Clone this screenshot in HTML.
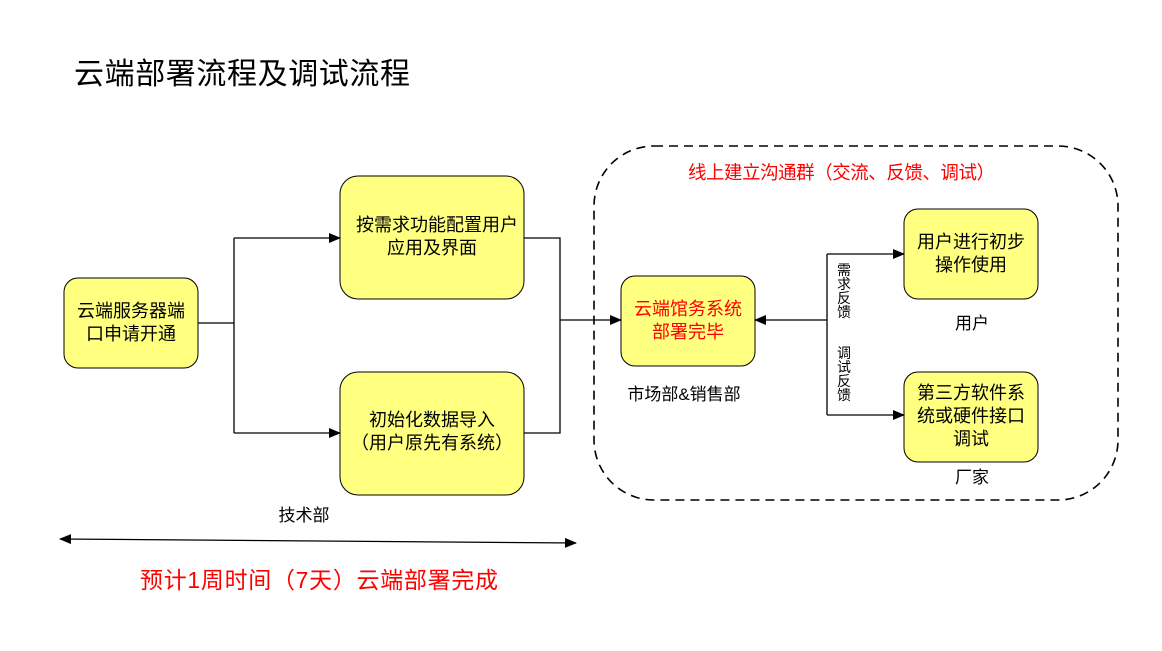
<!DOCTYPE html>
<html><head><meta charset="utf-8"><style>
body{margin:0;width:1162px;height:646px;background:#fff;overflow:hidden;font-family:"Liberation Sans","Noto Sans CJK SC",sans-serif;}
</style></head><body>
<svg width="1162" height="646" xmlns="http://www.w3.org/2000/svg" font-family="Liberation Sans, Noto Sans CJK SC, sans-serif">
<defs><marker id="a" markerWidth="12" markerHeight="10" refX="11" refY="5" orient="auto" markerUnits="userSpaceOnUse"><path d="M0,0 L12,5 L0,10 Z" fill="#000"/></marker>
<marker id="b" markerWidth="12" markerHeight="10" refX="1" refY="5" orient="auto" markerUnits="userSpaceOnUse"><path d="M12,0 L0,5 L12,10 Z" fill="#000"/></marker></defs>
<text x="74" y="84" font-size="30" fill="#000" textLength="336">云端部署流程及调试流程</text>
<rect x="594" y="146" width="524" height="354" rx="60" fill="none" stroke="#000" stroke-width="1.6" stroke-dasharray="9,6"/>
<text x="688" y="179" font-size="18.5" fill="#f00" textLength="307">线上建立沟通群（交流、反馈、调试）</text>
<g fill="#ffff80" stroke="#000" stroke-width="1">
<rect x="64" y="278" width="134" height="90" rx="14"/>
<rect x="340" y="176" width="184" height="123" rx="18"/>
<rect x="340" y="372" width="184" height="123" rx="18"/>
<rect x="621" y="276" width="134" height="90" rx="14"/>
<rect x="904" y="209" width="134" height="90" rx="14"/>
<rect x="904" y="372" width="134" height="90" rx="14"/>
</g>
<g font-size="18" text-anchor="middle" fill="#000">
<text x="131" y="317">云端服务器端</text><text x="131" y="340">口申请开通</text>
<text x="437" y="231">按需求功能配置用户</text><text x="432" y="254">应用及界面</text>
<text x="432" y="426">初始化数据导入</text><text x="432" y="449">（用户原先有系统）</text>
<text x="688" y="315" fill="#f00">云端馆务系统</text><text x="688" y="338" fill="#f00">部署完毕</text>
<text x="971" y="248">用户进行初步</text><text x="971" y="271">操作使用</text>
<text x="971" y="399">第三方软件系</text><text x="971" y="422">统或硬件接口</text><text x="971" y="445">调试</text>
</g>
<g font-size="17" fill="#000" text-anchor="middle">
<text x="684" y="400">市场部&amp;销售部</text>
<text x="972" y="329">用户</text>
<text x="972" y="483">厂家</text>
<text x="304" y="521">技术部</text>
</g>
<g font-size="14" fill="#000" text-anchor="middle">
<text x="844" y="275">需</text><text x="844" y="289">求</text><text x="844" y="303">反</text><text x="844" y="317">馈</text>
<text x="844" y="358">调</text><text x="844" y="372">试</text><text x="844" y="386">反</text><text x="844" y="400">馈</text>
</g>
<g stroke="#000" stroke-width="1.3" fill="none">
<path d="M198,323 H234 M234,238 V433"/>
<path d="M234,238 H340" marker-end="url(#a)"/>
<path d="M234,433 H340" marker-end="url(#a)"/>
<path d="M524,238 H560 V433 H524"/>
<path d="M560,320 H621" marker-end="url(#a)"/>
<path d="M827,320 H755" marker-end="url(#a)"/>
<path d="M827,254 V415"/>
<path d="M827,254 H904" marker-end="url(#a)"/>
<path d="M827,415 H904" marker-end="url(#a)"/>
<path d="M60,539 L576,543" marker-end="url(#a)" marker-start="url(#b)"/>
</g>
<text x="140" y="588" font-size="23" fill="#f00" textLength="358">预计1周时间（7天）云端部署完成</text>
</svg>
</body></html>
